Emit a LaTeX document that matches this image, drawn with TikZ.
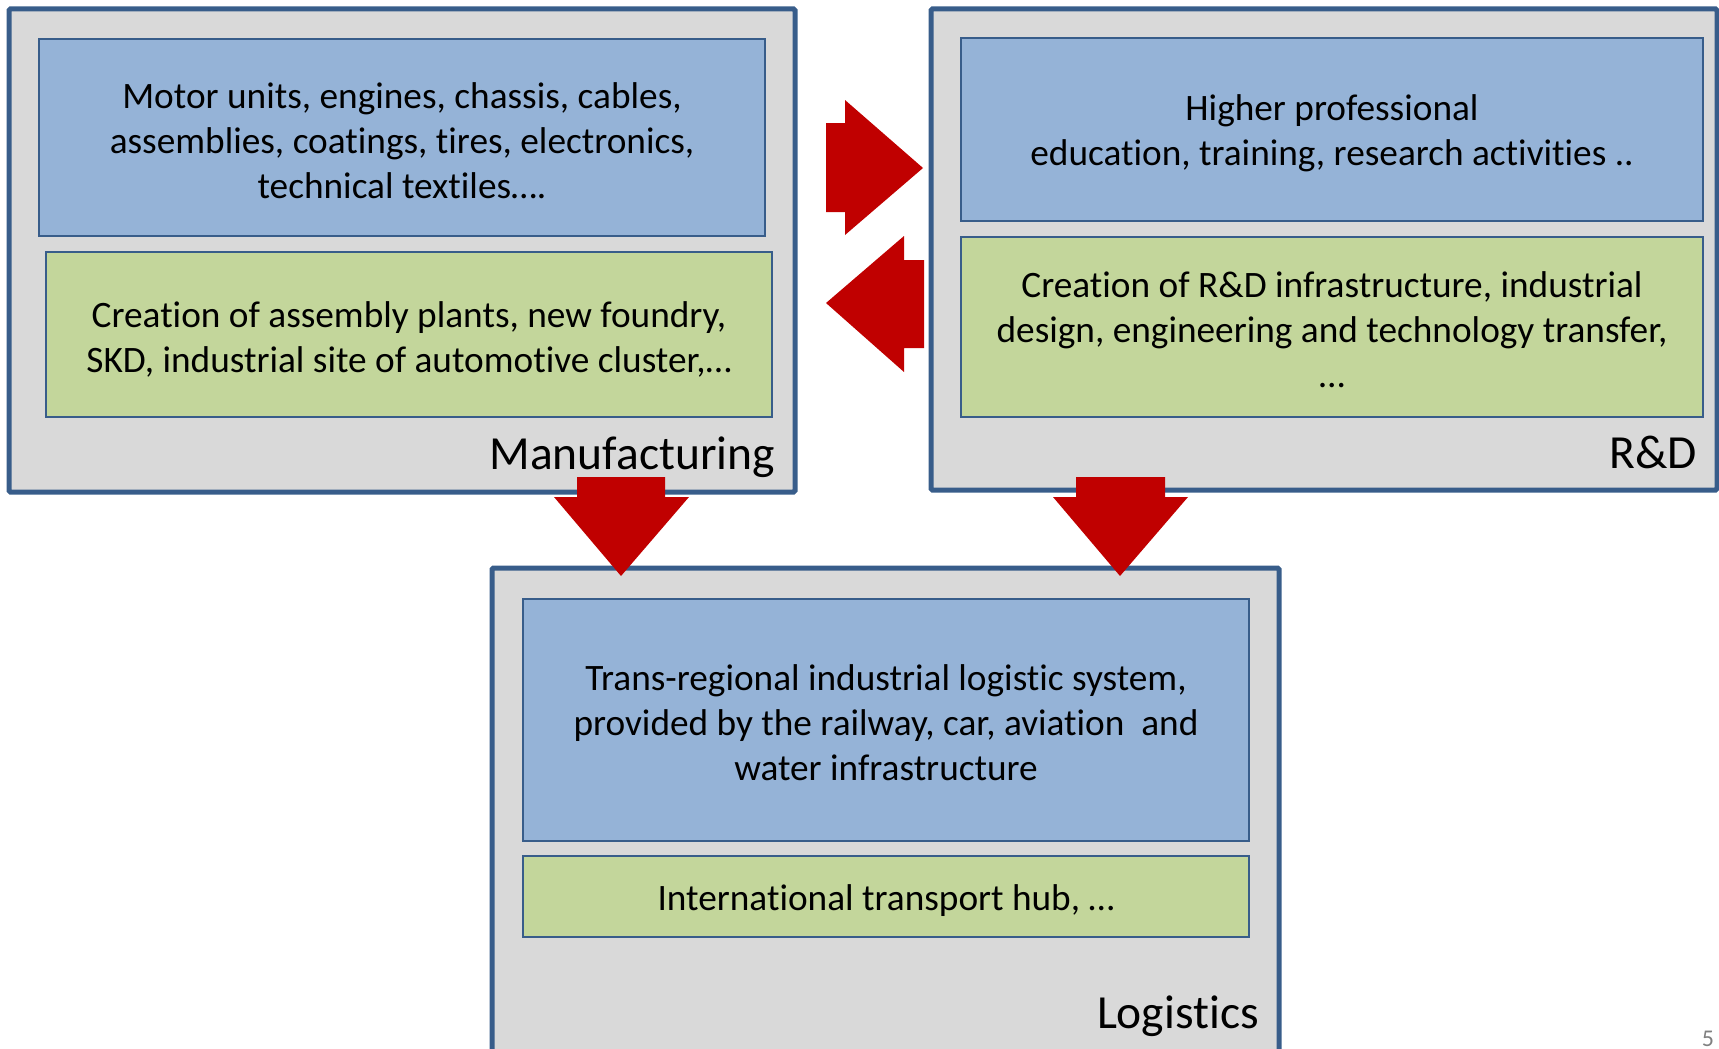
\documentclass[tikz,border=0pt]{standalone}
\usepackage{fontspec}
\setmainfont{Carlito}[Ligatures=NoCommon]
\definecolor{frameblue}{HTML}{385D8A}
\definecolor{boxblue}{HTML}{95B3D7}
\definecolor{boxgreen}{HTML}{C3D69B}
\definecolor{panelgray}{HTML}{D9D9D9}
\definecolor{arrowred}{HTML}{C00000}
\tikzset{
  panel/.style={draw=frameblue, line width=5pt, fill=panelgray, rounded corners=1.5pt},
  bluebox/.style={draw=frameblue, line width=2pt, fill=boxblue},
  greenbox/.style={draw=frameblue, line width=2pt, fill=boxgreen},
  bodytext/.style={align=center, font=\fontsize{37.3}{45}\selectfont, inner sep=0pt},
  paneltitle/.style={anchor=base east, font=\fontsize{47.5}{56}\selectfont, inner sep=0pt},
  bigarrow/.style={fill=arrowred, draw=none}
}
\begin{document}
\begin{tikzpicture}[x=1pt, y=-1pt]
\useasboundingbox (0,0) rectangle (1719,1049);
% panels
\draw[panel] (9,9) rectangle (795,492);
\draw[panel] (931,9) rectangle (1717,490);
\draw[panel] (492,568) rectangle (1279,1080);
% manufacturing
\draw[bluebox] (39,39) rectangle (765,236);
\draw[greenbox] (46,252) rectangle (772,417);
\node[bodytext] (mt1) at (402,141) {Motor units, engines, chassis, cables,\\assemblies, coatings, tires, electronics,\\technical textiles….};
\node[bodytext] (mt2) at (409,339) {Creation of assembly plants, new foundry,\\SKD, industrial site of automotive cluster,…};
\node[paneltitle] (mlab) at (775,469) {Manufacturing};
% R&D
\draw[bluebox] (961,38) rectangle (1703,221);
\draw[greenbox] (961,237) rectangle (1703,417);
\node[bodytext] (rt1) at (1332,133) {Higher professional\\education, training, research activities ..};
\node[bodytext] (rt2) at (1332,330) {Creation of R\&D infrastructure, industrial\\design, engineering and technology transfer,\\…};
\node[paneltitle] (rlab) at (1697,468) {R\&D};
% Logistics
\draw[bluebox] (523,599) rectangle (1249,841);
\draw[greenbox] (523,856) rectangle (1249,937);
\node[bodytext] (lt1) at (886,723) {Trans-regional industrial logistic system,\\provided by the railway, car, aviation~ and\\water infrastructure};
\node[bodytext] (lt2) at (886,901) {International transport hub, …};
\node[paneltitle] (llab) at (1259,1028) {Logistics};
% arrows
\fill[bigarrow] (826,123) -- (845,123) -- (845,100) -- (923,168) -- (845,235) -- (845,212) -- (826,212) -- cycle;
\fill[bigarrow] (924,260) -- (904,260) -- (904,236) -- (826,303) -- (904,372) -- (904,348) -- (924,348) -- cycle;
\fill[bigarrow] (577,477) -- (665,477) -- (665,497) -- (689,497) -- (621,576) -- (554,497) -- (577,497) -- cycle;
\fill[bigarrow] (1076,477) -- (1165,477) -- (1165,497) -- (1188,497) -- (1120,576) -- (1053,497) -- (1076,497) -- cycle;
% page number
\node[anchor=base, text=gray, font=\fontsize{24}{28}\selectfont, inner sep=0pt] (pg) at (1708,1046) {5};
\end{tikzpicture}
\end{document}
